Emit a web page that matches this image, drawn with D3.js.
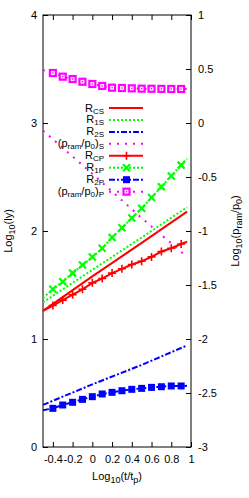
<!DOCTYPE html>
<html>
<head>
<meta charset="utf-8">
<script src="https://cdn.jsdelivr.net/npm/d3@7"></script>
<style>
  body { margin: 0; background: #fff; }
  text { font-family: "Liberation Sans", Arial, sans-serif; font-size: 11px; fill: #000; }
</style>
</head>
<body>
<svg id="chart" width="249" height="498"></svg>
<script>
// x positions of the sampled points (log10 t/tp)
let tValues = [-0.5, -0.4, -0.3, -0.2, -0.1, 0, 0.1, 0.2, 0.3, 0.4, 0.5, 0.6, 0.7, 0.8, 0.9, 0.96]
// straight S curves only need a few points
let tValuesS = [-0.5, 0, 0.5, 0.96]

// left axis series
let rCS = [1.26, 1.58, 1.89, 2.18]
let r1S = [1.34, 1.64, 1.94, 2.22]
let r2S = [0.39, 0.58, 0.76, 0.94]
let rCP = [1.26, 1.31, 1.36, 1.41, 1.46, 1.52, 1.56, 1.61, 1.65, 1.69, 1.72, 1.76, 1.81, 1.84, 1.88, 1.90]
let r1P = [1.38, 1.46, 1.53, 1.61, 1.685, 1.76, 1.84, 1.94, 2.03, 2.12, 2.21, 2.31, 2.41, 2.51, 2.61, 2.67]
let r2P = [0.34, 0.358, 0.389, 0.414, 0.441, 0.466, 0.491, 0.506, 0.521, 0.534, 0.543, 0.552, 0.558, 0.565, 0.565, 0.566]

// right axis series
let pramS = [-0.07, -0.47, -0.88, -1.24]
let pramP = [0.49, 0.463, 0.429, 0.407, 0.382, 0.361, 0.343, 0.327, 0.324, 0.321, 0.318, 0.317, 0.316, 0.315, 0.315, 0.315]

// ticks
let xTicks = [-0.4, -0.2, 0, 0.2, 0.4, 0.6, 0.8, 1]
let yTicks = [0, 1, 2, 3, 4]
let y2Ticks = [1, 0.5, 0, -0.5, -1, -1.5, -2, -2.5, -3]

let svg = d3.select("#chart")
let paddingLeft = 43
let paddingTop = 15
let coordinateWidth = 148
let coordinateHeight = 432

let xScale = d3.scaleLinear().domain([-0.5, 1]).range([0, coordinateWidth])
let yScale = d3.scaleLinear().domain([0, 4]).range([coordinateHeight, 0])
let y2Scale = d3.scaleLinear().domain([-3, 1]).range([coordinateHeight, 0])

let g = svg.append("g")
    .attr("transform", "translate(" + paddingLeft + "," + paddingTop + ")")

//axes with inward ticks
function styleAxis(gAxis) {
    gAxis.select(".domain").remove()
    gAxis.selectAll(".tick line").attr("stroke", "#000")
    gAxis.selectAll(".tick text").attr("font-size", 11)
        .attr("font-family", "Liberation Sans, Arial, sans-serif")
}
let plain = d => String(d)
let gx = g.append("g").attr("transform", "translate(0," + coordinateHeight + ")")
    .call(d3.axisBottom(xScale).tickValues(xTicks).tickSize(-5).tickPadding(8).tickFormat(plain))
styleAxis(gx)
let gxTop = g.append("g")
    .call(d3.axisTop(xScale).tickValues(xTicks).tickSize(-5).tickFormat(""))
styleAxis(gxTop)
let gy = g.append("g")
    .call(d3.axisLeft(yScale).tickValues(yTicks).tickSize(-5).tickPadding(6).tickFormat(plain))
styleAxis(gy)
let gy2 = g.append("g").attr("transform", "translate(" + coordinateWidth + ",0)")
    .call(d3.axisRight(y2Scale).tickValues(y2Ticks).tickSize(-5).tickPadding(7).tickFormat(plain))
styleAxis(gy2)

g.append("rect")
    .attr("width", coordinateWidth).attr("height", coordinateHeight)
    .attr("fill", "none").attr("stroke", "#000").attr("stroke-width", 1)

//series definitions
let series = [
    {name: [["R", 0], ["CS", 1]], t: tValuesS, v: rCS, axis: "y", color: "#ff0000", dash: null, mark: null},
    {name: [["R", 0], ["1S", 1]], t: tValuesS, v: r1S, axis: "y", color: "#00ff00", dash: "2,2", mark: null},
    {name: [["R", 0], ["2S", 1]], t: tValuesS, v: r2S, axis: "y", color: "#0000ff", dash: "6,2,2,2", mark: null},
    {name: [["(p", 0], ["ram", 1], ["/p", 0], ["0", 1], [")", 0], ["S", 1]], t: tValuesS, v: pramS, axis: "y2", color: "#ff00ff", dash: "2,6", mark: null},
    {name: [["R", 0], ["CP", 1]], t: tValues, v: rCP, axis: "y", color: "#ff0000", dash: null, mark: "plus"},
    {name: [["R", 0], ["1P", 1]], t: tValues, v: r1P, axis: "y", color: "#00ff00", dash: "2,2", mark: "cross"},
    {name: [["R", 0], ["2P", 1]], t: tValues, v: r2P, axis: "y", color: "#0000ff", dash: "6,2,2,2", mark: "square"},
    {name: [["(p", 0], ["ram", 1], ["/p", 0], ["0", 1], [")", 0], ["P", 1]], t: tValues, v: pramP, axis: "y2", color: "#ff00ff", dash: "2,6", mark: "box"}
]

function drawMark(sel, type, color, x, y) {
    if (type === "plus") {
        sel.append("path").attr("d", "M" + (x - 4) + "," + y + "h8M" + x + "," + (y - 4) + "v8")
            .attr("stroke", color).attr("stroke-width", 1.6).attr("fill", "none")
    } else if (type === "cross") {
        sel.append("path").attr("d", "M" + (x - 3.5) + "," + (y - 3.5) + "l7,7M" + (x - 3.5) + "," + (y + 3.5) + "l7,-7")
            .attr("stroke", color).attr("stroke-width", 2.2).attr("fill", "none")
    } else if (type === "square") {
        sel.append("rect").attr("x", x - 3.5).attr("y", y - 3.5).attr("width", 7).attr("height", 7)
            .attr("fill", color)
    } else if (type === "box") {
        sel.append("rect").attr("x", x - 3).attr("y", y - 3).attr("width", 6).attr("height", 6)
            .attr("fill", "#fff").attr("stroke", color).attr("stroke-width", 2.2)
        sel.append("rect").attr("x", x - 0.7).attr("y", y - 0.7).attr("width", 1.4).attr("height", 1.4)
            .attr("fill", color)
    }
}

let gLines = g.append("g")
series.forEach(function(s) {
    let ys = s.axis === "y" ? yScale : y2Scale
    let pts = s.t.map((t, i) => [t, s.v[i]])
    let line = d3.line().x(d => xScale(d[0])).y(d => ys(d[1]))
    gLines.append("path")
        .attr("d", line(pts))
        .attr("fill", "none")
        .attr("stroke", s.color)
        .attr("stroke-width", 2)
        .attr("stroke-dasharray", s.dash)
    if (s.mark) {
        pts.slice(1, pts.length - 1).forEach(function(p) {
            drawMark(gLines, s.mark, s.color, xScale(p[0]), ys(p[1]))
        })
    }
})

//text with subscripts
function subText(sel, parts, subSize, shift) {
    parts.forEach(function(p, i) {
        let ts = sel.append("tspan").text(p[0])
        if (p[1] === 1) {
            ts.attr("font-size", subSize).attr("dy", (i > 0 && parts[i - 1][1] === 1) ? 0 : shift)
        } else if (i > 0 && parts[i - 1][1] === 1) {
            ts.attr("dy", -shift)
        }
    })
}

//legend
let legendTop = 108
let legendStep = 11.95
series.forEach(function(s, i) {
    let ly = legendTop + i * legendStep
    let label = svg.append("text")
        .attr("x", 104).attr("y", ly + 3.5)
        .attr("text-anchor", "end")
        .attr("font-size", 10.5)
    subText(label, s.name, 8, 2)
    svg.append("line")
        .attr("x1", 109).attr("x2", 143).attr("y1", ly).attr("y2", ly)
        .attr("stroke", s.color).attr("stroke-width", 2)
        .attr("stroke-dasharray", s.dash)
    if (s.mark) drawMark(svg, s.mark, s.color, 126.5, ly)
})

//axis labels
let xLabel = svg.append("text").attr("x", paddingLeft + coordinateWidth / 2).attr("y", 480)
    .attr("text-anchor", "middle")
subText(xLabel, [["Log", 0], ["10", 1], ["(t/t", 0], ["p", 1], [")", 0]], 9, 3)

let yLabel = svg.append("text")
    .attr("transform", "translate(12," + (paddingTop + coordinateHeight / 2) + ") rotate(-90)")
    .attr("text-anchor", "middle")
subText(yLabel, [["Log", 0], ["10", 1], ["(ly)", 0]], 9, 3)

let y2Label = svg.append("text")
    .attr("transform", "translate(239," + (paddingTop + coordinateHeight / 2) + ") rotate(-90)")
    .attr("text-anchor", "middle")
subText(y2Label, [["Log", 0], ["10", 1], ["(p", 0], ["ram", 1], ["/p", 0], ["0", 1], [")", 0]], 9, 3)
</script>
</body>
</html>
